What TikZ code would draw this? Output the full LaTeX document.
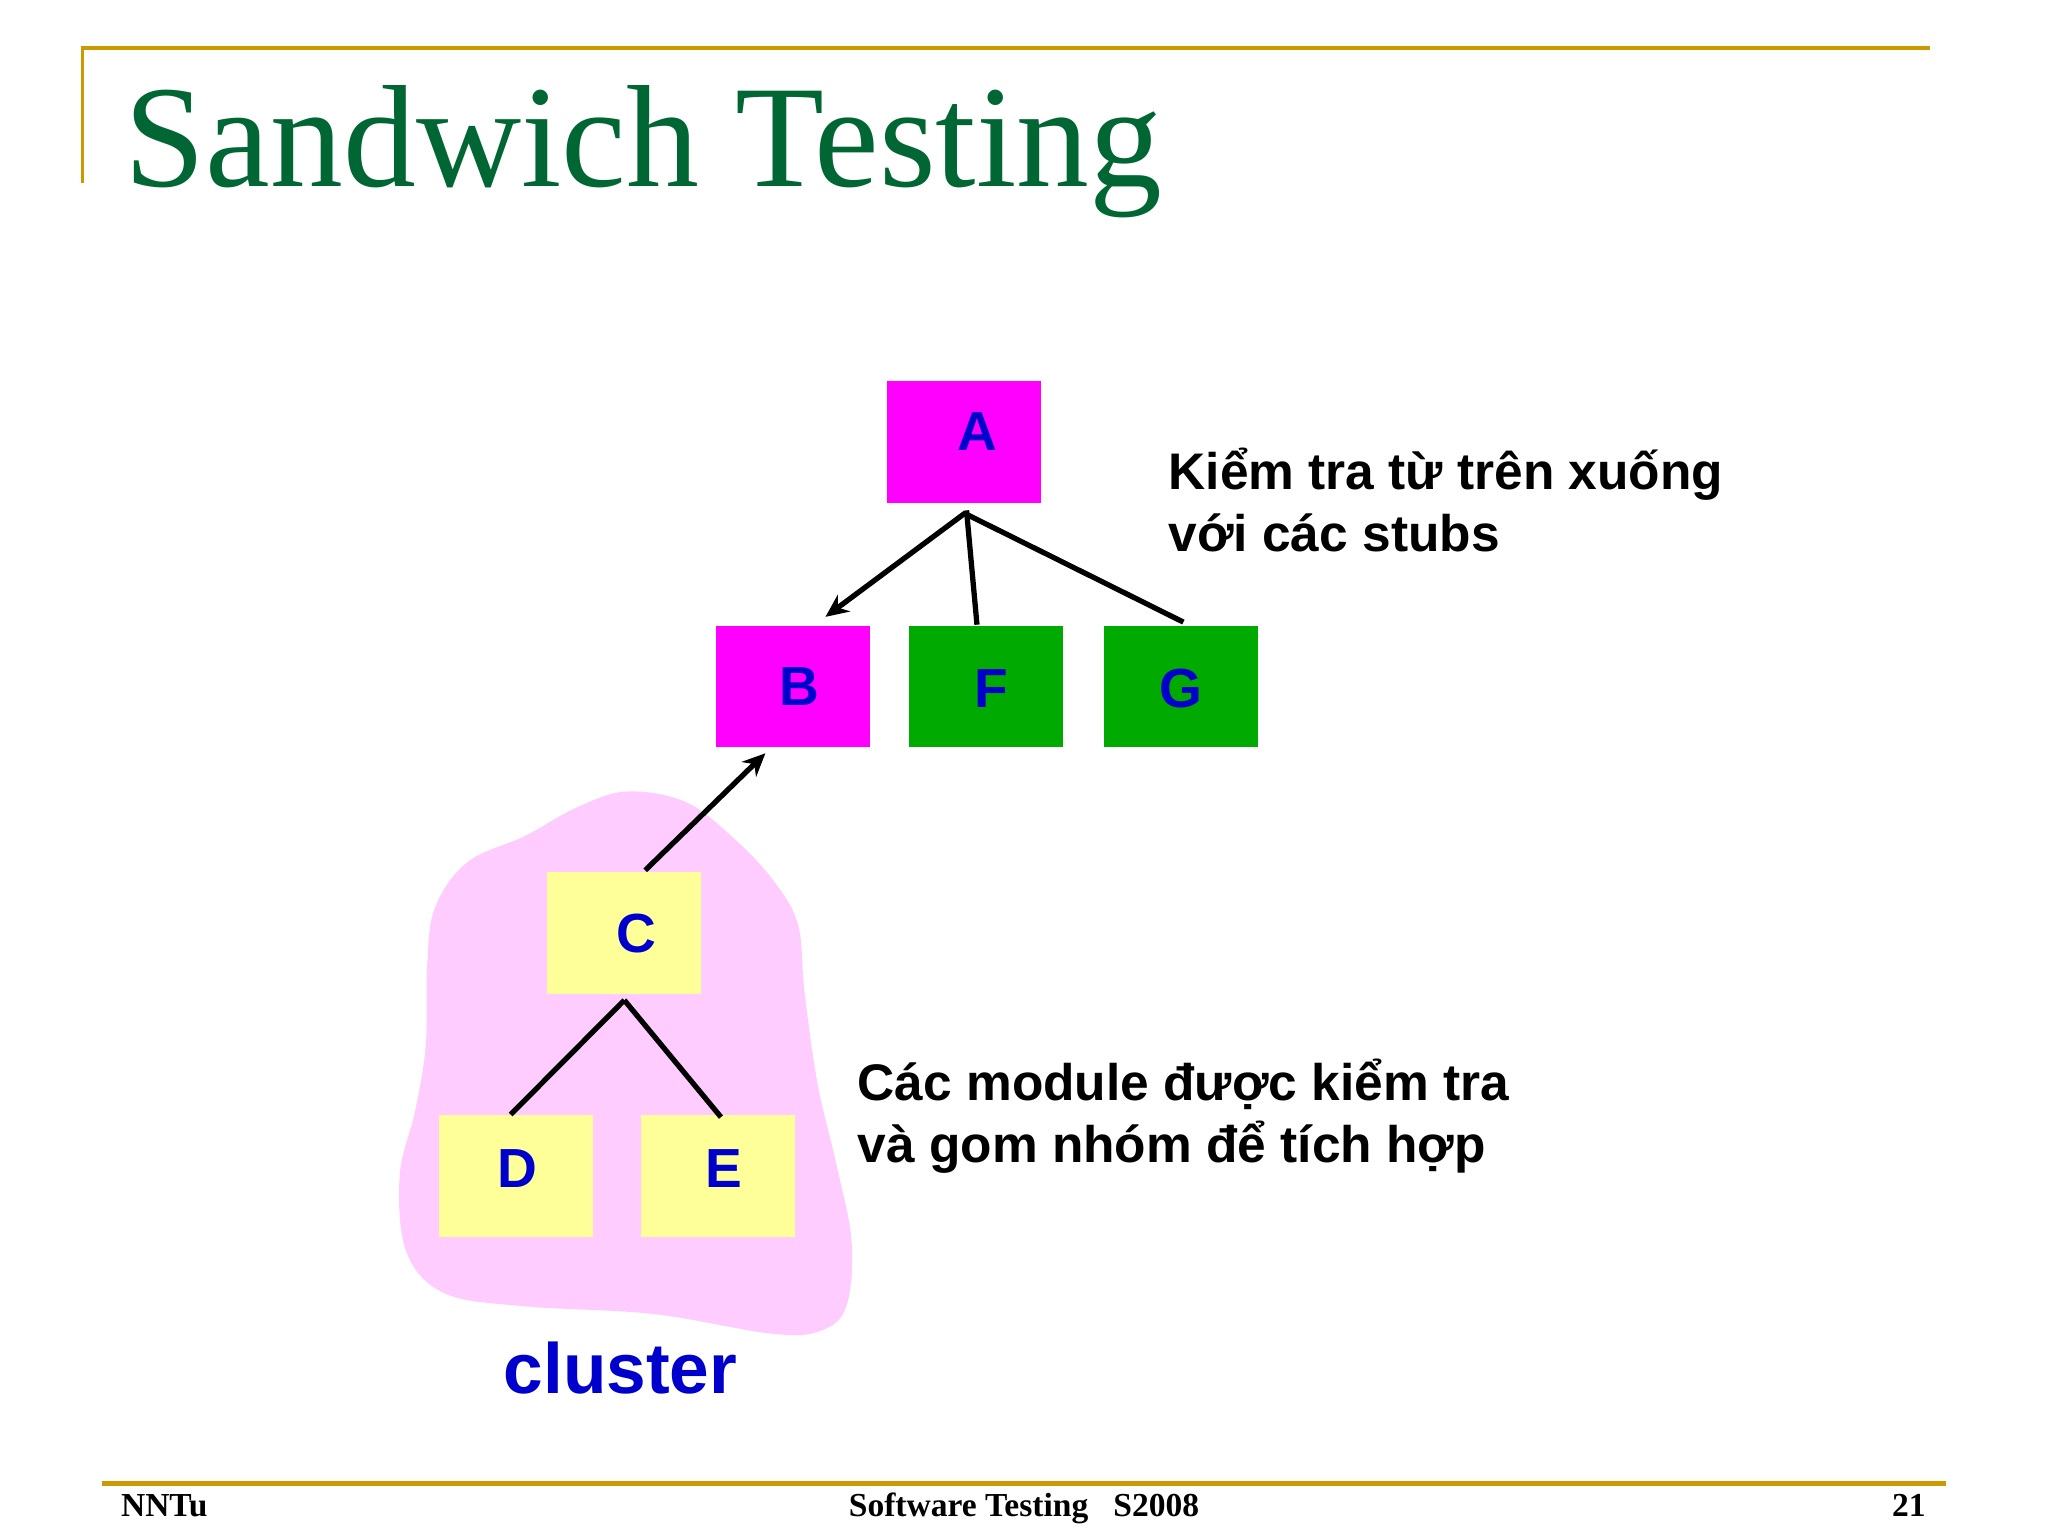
\documentclass[tikz,border=0pt]{standalone}
\usepackage{fontspec}
\setmainfont{Liberation Serif}
\newfontfamily\arialfont{Liberation Sans}
\usetikzlibrary{calc,arrows.meta}
\definecolor{gold}{RGB}{204,153,0}
\definecolor{titlegreen}{RGB}{0,102,51}
\definecolor{boxmag}{RGB}{255,0,255}
\definecolor{boxgreen}{RGB}{0,170,0}
\definecolor{boxyellow}{RGB}{255,255,153}
\definecolor{blobpink}{RGB}{255,204,255}
\definecolor{lblue}{RGB}{0,0,204}
\newcommand\offlbl[3]{\kern#1\relax\raisebox{#2}[\height][\depth]{#3}\kern-#1\relax}
\begin{document}
\begin{tikzpicture}[x=0.01cm,y=-0.01cm,
  modbox/.style={minimum width=1.18cm,minimum height=0.93cm,inner sep=0pt,draw=none,
    font=\arialfont\bfseries\fontsize{12}{14}\selectfont,text=lblue},
  conn/.style={line width=1.15pt,black},
  arr/.style={conn,-{Stealth[length=5pt,width=4.5pt]}},
  bodytext/.style={font=\arialfont\bfseries\fontsize{11.2}{13.4}\selectfont,align=left,inner sep=0pt,anchor=base west},
  foot/.style={font=\bfseries\fontsize{7.3}{8}\selectfont,inner sep=0pt,anchor=base}
]
\useasboundingbox (0,0) rectangle (1568,1174.5);
% frame lines
\draw[gold,line width=0.85pt] (62,37) -- (1478,37);
\draw[gold,line width=0.6pt] (63,37) -- (63,140);
\draw[gold,line width=1.1pt] (78,1136) -- (1490,1136);
% title
\node[font=\fontsize{31.7}{36}\selectfont,text=titlegreen,inner sep=0pt,anchor=base west] (title) at (95,143) {Sandwich Testing};
% cluster blob
\fill[blobpink] plot[smooth cycle,tension=0.6] coordinates {
 (480,606) (525,614) (562,642) (592,674) (611,708) (616,760) (626,830) (640,890)
 (652,950) (648,1000) (628,1019) (590,1021) (500,1006) (400,1000) (340,990)
 (311,958) (306,900) (318,850) (326,800) (327,740) (333,695) (358,660) (402,640) (442,618)};
% modules
\node[modbox,fill=boxmag] (A) at (738,338.5) {\offlbl{0.1cm}{0.08cm}{A}};
\node[modbox,fill=boxmag] (B) at (607,525.5) {\offlbl{0.05cm}{0cm}{B}};
\node[modbox,fill=boxgreen] (F) at (755,525.5) {\offlbl{0.04cm}{-0.02cm}{F}};
\node[modbox,fill=boxgreen] (G) at (904,525.5) {\offlbl{0cm}{-0.02cm}{G}};
\node[modbox,fill=boxyellow] (C) at (478,714.5) {\offlbl{0.09cm}{0cm}{C}};
\node[modbox,fill=boxyellow] (D) at (395,900.5) {\offlbl{0.01cm}{0.06cm}{D}};
\node[modbox,fill=boxyellow] (E) at (550,900.5) {\offlbl{0.04cm}{0.06cm}{E}};
% connectors
\draw[arr] ($(A.south)+(1,7)$) -- ($(B.north)+(25,-6)$);
\draw[conn] ($(A.south)+(2,5)$) -- ($(F.north)+(-7,0)$);
\draw[conn] ($(A.south)+(2,8)$) -- ($(G.north)+(2,-2)$);
\draw[arr] ($(C.north)+(16,-1)$) -- ($(B.south)+(-21,4)$);
\draw[conn] ($(C.south)+(0,4)$) -- ($(D.north)+(-4,0)$);
\draw[conn] ($(C.south)+(0,4)$) -- ($(E.north)+(2,2)$);
% texts (anchor is the baseline of the last line)
\node[bodytext] (t1) at (894,422) {Kiểm tra từ trên xuống\\với các stubs};
\node[bodytext] (t2) at (656,890) {Các module được kiểm tra\\và gom nhóm để tích hợp};
\node[font=\arialfont\bfseries\fontsize{15.5}{18}\selectfont,text=lblue,inner sep=0pt,anchor=base] (cl) at (475,1067) {cluster};
% footer
\node[foot,anchor=base west] (f1) at (92,1161) {NNTu};
\node[foot] (f2) at (784,1161) {Software Testing\ \ \ S2008};
\node[foot,anchor=base east] (f3) at (1475,1161) {21};
\end{tikzpicture}
\end{document}
